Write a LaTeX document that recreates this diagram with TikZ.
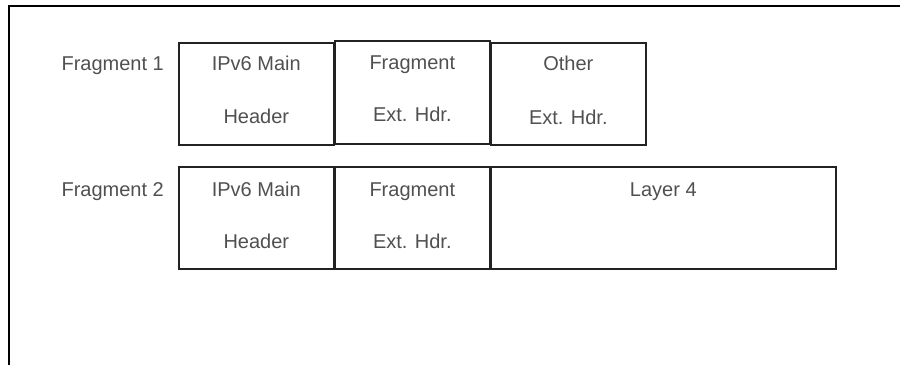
\documentclass[tikz,border=0pt]{standalone}
\usepackage{fontspec}
\setmainfont{Liberation Sans}
\definecolor{txt}{HTML}{505050}
\definecolor{edge}{HTML}{222222}
\begin{document}
\begin{tikzpicture}[x=1pt,y=-1pt,
  box/.style={draw=edge,line width=1.6pt,rectangle,anchor=north west,inner sep=0pt},
  lbl/.style={text=txt,font=\fontsize{20}{24}\selectfont,inner sep=0pt,anchor=base},
  side/.style={lbl,anchor=base east}]
\useasboundingbox (0,0) rectangle (900,365);
% frame (top and left edges)
\coordinate (ftr) at (900,6);
\coordinate (ftl) at (9,6);
\coordinate (fbl) at (9,365);
\draw[line width=2pt,black] (ftr) -- (ftl) -- (fbl);
% row 1
\node[box,minimum width=155,minimum height=102] (a1) at (178,42) {};
\node[box,minimum width=155,minimum height=103] (a2) at (334,40) {};
\node[box,minimum width=155,minimum height=102] (a3) at (490,42) {};
\node[side] (f1) at (164,70) {Fragment 1};
\node[lbl] (a1t) at ([yshift=-28]a1.north) {IPv6 Main};
\node[lbl] (a1b) at ([yshift=-81]a1.north) {Header};
\node[lbl] (a2t) at ([yshift=-29]a2.north) {Fragment};
\node[lbl] (a2b) at ([yshift=-81]a2.north) {Ext. Hdr.};
\node[lbl] (a3t) at ([yshift=-28]a3.north) {Other};
\node[lbl] (a3b) at ([yshift=-82]a3.north) {Ext. Hdr.};
% row 2
\node[box,minimum width=155,minimum height=102] (b1) at (178,166) {};
\node[box,minimum width=155,minimum height=102] (b2) at (334,166) {};
\node[box,minimum width=345,minimum height=102] (b3) at (490,166) {};
\node[side] (f2) at (164,196) {Fragment 2};
\node[lbl] (b1t) at ([yshift=-30]b1.north) {IPv6 Main};
\node[lbl] (b1b) at ([yshift=-82]b1.north) {Header};
\node[lbl] (b2t) at ([yshift=-30]b2.north) {Fragment};
\node[lbl] (b2b) at ([yshift=-82]b2.north) {Ext. Hdr.};
\node[lbl] (b3t) at ([yshift=-30]b3.north) {Layer 4};
\end{tikzpicture}
\end{document}
